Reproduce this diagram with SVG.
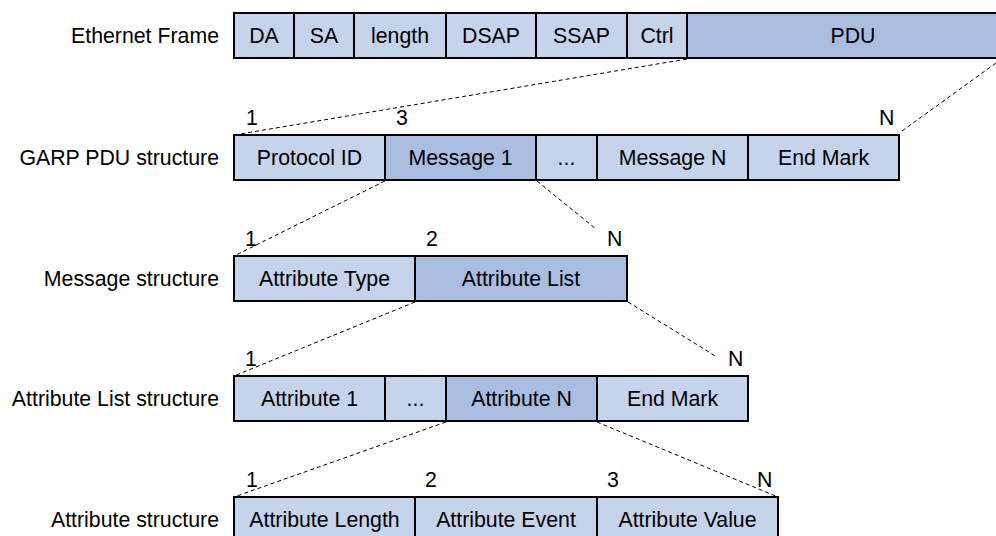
<svg xmlns="http://www.w3.org/2000/svg" width="996" height="536" viewBox="0 0 996 536">
  <style>
    text { font-family: "Liberation Sans", Arial, sans-serif; font-size: 21.3px; fill: #000; }
    .lbl { text-anchor: end; }
    .cell { text-anchor: middle; }
    .lt { fill: #C5D3EB; stroke: #000; stroke-width: 2; }
    .dk { fill: #A8BDE0; stroke: #000; stroke-width: 2; }
    .dash { fill: none; stroke: #000; stroke-width: 1; stroke-dasharray: 4 3; }
  </style>

  <!-- row titles -->
  <g id="titles">
    <text class="lbl" x="219" y="43">Ethernet Frame</text>
    <text class="lbl" x="219" y="165">GARP PDU structure</text>
    <text class="lbl" x="219" y="286">Message structure</text>
    <text class="lbl" x="219" y="406">Attribute List structure</text>
    <text class="lbl" x="219" y="527">Attribute structure</text>
  </g>

  <!-- connectors -->
  <g id="connectors">
    <line class="dash" x1="687" y1="59" x2="234" y2="135"/>
    <line class="dash" x1="996" y1="63" x2="902" y2="131"/>
    <line class="dash" x1="385" y1="181" x2="234" y2="256"/>
    <line class="dash" x1="537" y1="181" x2="596" y2="229"/>
    <line class="dash" x1="415" y1="302" x2="234" y2="376"/>
    <line class="dash" x1="628" y1="302" x2="717" y2="357"/>
    <line class="dash" x1="446" y1="422" x2="234" y2="497"/>
    <line class="dash" x1="597" y1="422" x2="778" y2="497"/>
  </g>

  <!-- Ethernet frame -->
  <g id="ethernet-frame">
    <rect class="lt" x="234" y="13" width="60" height="45"/>
    <rect class="lt" x="294" y="13" width="60" height="45"/>
    <rect class="lt" x="354" y="13" width="92" height="45"/>
    <rect class="lt" x="446" y="13" width="90" height="45"/>
    <rect class="lt" x="536" y="13" width="91" height="45"/>
    <rect class="lt" x="627" y="13" width="60" height="45"/>
    <rect class="dk" x="687" y="13" width="320" height="45"/>
    <text class="cell" x="264" y="43">DA</text>
    <text class="cell" x="324" y="43">SA</text>
    <text class="cell" x="400" y="43">length</text>
    <text class="cell" x="491" y="43">DSAP</text>
    <text class="cell" x="581.5" y="43">SSAP</text>
    <text class="cell" x="657" y="43">Ctrl</text>
    <text class="cell" x="853" y="43">PDU</text>
  </g>

  <!-- GARP PDU -->
  <g id="garp-pdu">
    <rect class="lt" x="234" y="135" width="151" height="45"/>
    <rect class="dk" x="385" y="135" width="151" height="45"/>
    <rect class="lt" x="536" y="135" width="61" height="45"/>
    <rect class="lt" x="597" y="135" width="151" height="45"/>
    <rect class="lt" x="748" y="135" width="151" height="45"/>
    <text class="cell" x="309.5" y="165">Protocol ID</text>
    <text class="cell" x="460.5" y="165">Message 1</text>
    <text class="cell" x="566.5" y="165">...</text>
    <text class="cell" x="672.5" y="165">Message N</text>
    <text class="cell" x="823.5" y="165">End Mark</text>
    <text x="246" y="125">1</text>
    <text x="396" y="125">3</text>
    <text x="879" y="125">N</text>
  </g>

  <!-- Message -->
  <g id="message">
    <rect class="lt" x="234" y="256" width="181" height="45"/>
    <rect class="dk" x="415" y="256" width="212" height="45"/>
    <text class="cell" x="324.5" y="286">Attribute Type</text>
    <text class="cell" x="521" y="286">Attribute List</text>
    <text x="245" y="246">1</text>
    <text x="426" y="246">2</text>
    <text x="607" y="246">N</text>
  </g>

  <!-- Attribute list -->
  <g id="attribute-list">
    <rect class="lt" x="234" y="376" width="151" height="45"/>
    <rect class="lt" x="385" y="376" width="61" height="45"/>
    <rect class="dk" x="446" y="376" width="151" height="45"/>
    <rect class="lt" x="597" y="376" width="151" height="45"/>
    <text class="cell" x="309.5" y="406">Attribute 1</text>
    <text class="cell" x="415.5" y="406">...</text>
    <text class="cell" x="521.5" y="406">Attribute N</text>
    <text class="cell" x="672.5" y="406">End Mark</text>
    <text x="245" y="366">1</text>
    <text x="728" y="366">N</text>
  </g>

  <!-- Attribute -->
  <g id="attribute">
    <rect class="lt" x="234" y="497" width="181" height="45"/>
    <rect class="lt" x="415" y="497" width="182" height="45"/>
    <rect class="lt" x="597" y="497" width="181" height="45"/>
    <text class="cell" x="324.5" y="527">Attribute Length</text>
    <text class="cell" x="506" y="527">Attribute Event</text>
    <text class="cell" x="687.5" y="527">Attribute Value</text>
    <text x="246" y="487">1</text>
    <text x="425" y="487">2</text>
    <text x="607" y="487">3</text>
    <text x="757" y="487">N</text>
  </g>
</svg>
